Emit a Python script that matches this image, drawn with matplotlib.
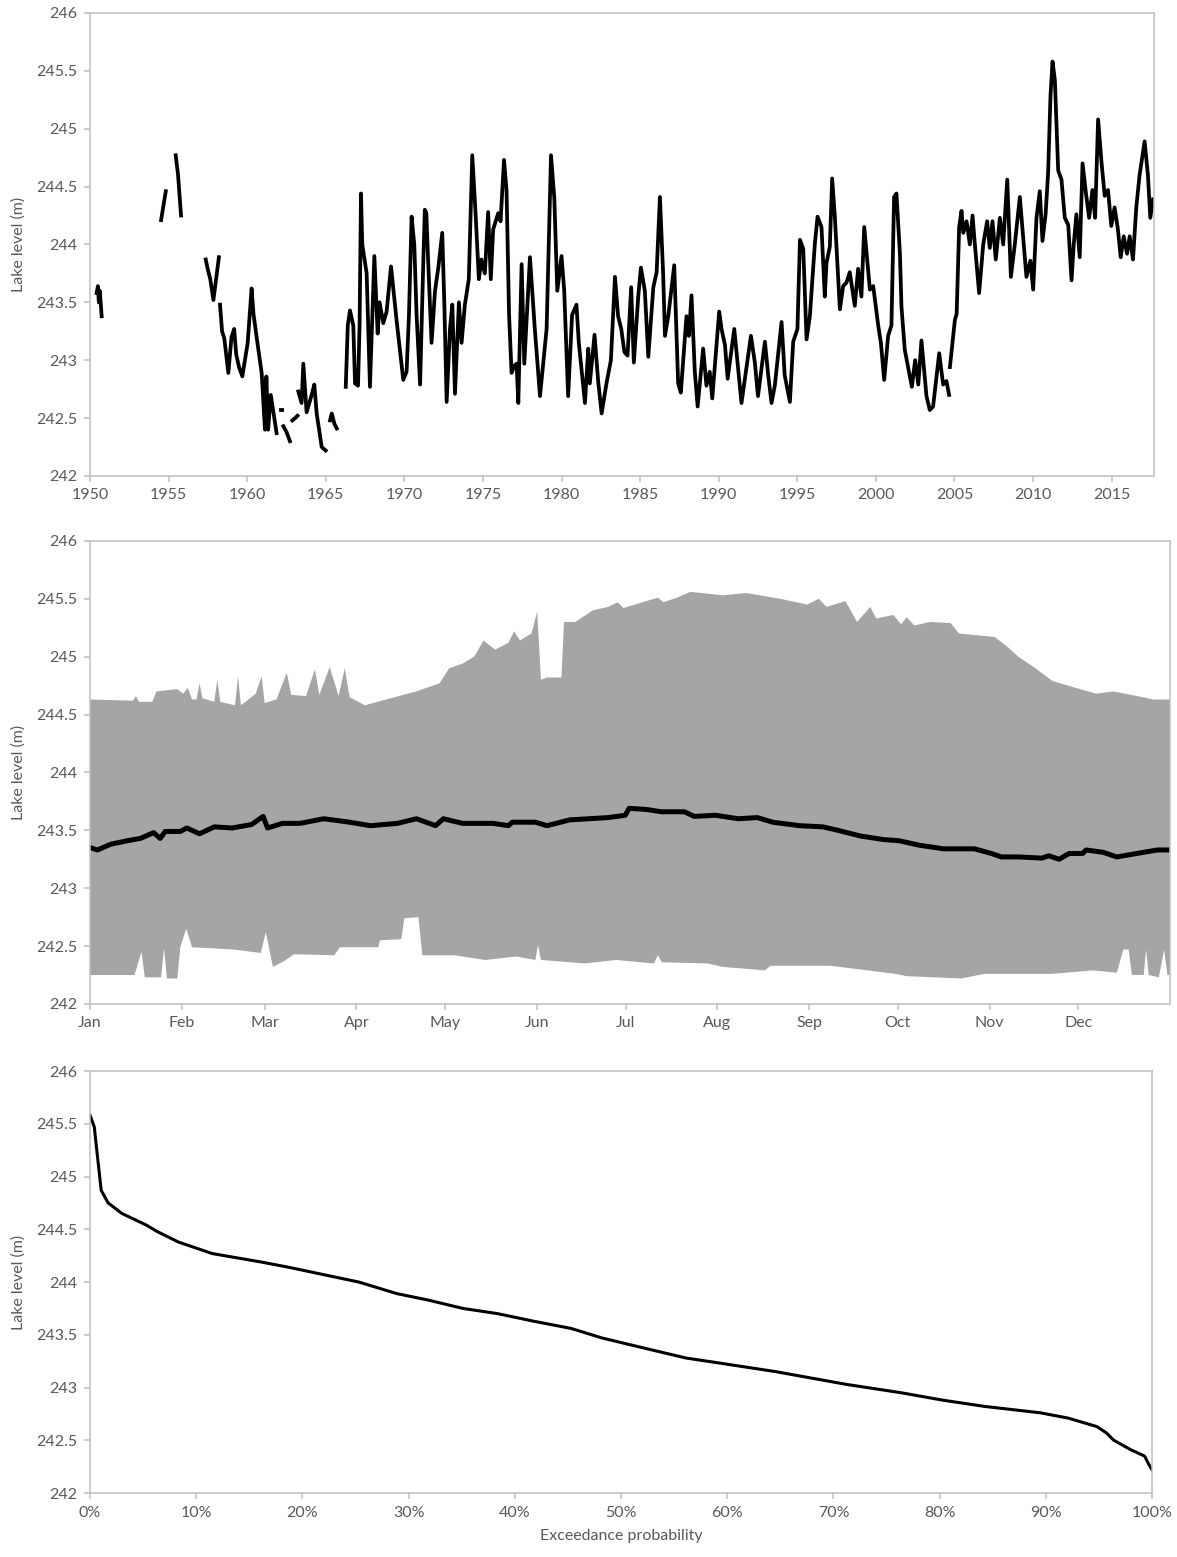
import numpy as np
import matplotlib
matplotlib.use("Agg")
import matplotlib.pyplot as plt
from matplotlib.ticker import FuncFormatter, PercentFormatter

plt.rcParams['font.family'] = ['Lato', 'DejaVu Sans']

nan = np.nan

# --- panel 1: lake level time series (years, m); nan = gap in record
ts_year = [1950.42, 1950.50, 1950.56, 1950.62, 1950.74, nan,
           1954.52, 1954.65, 1954.82, nan,
           1955.45, 1955.60, 1955.79, nan,
           1957.36, 1957.50, 1957.65, 1957.85, 1958.20, nan,
           1958.27, 1958.40, 1958.54, 1958.80, 1959.00, 1959.17, 1959.30, 1959.48, 1959.69, 1960.03,
           1960.28, 1960.40, 1960.65, 1960.92, 1961.13, 1961.22, 1961.33, 1961.50, 1961.87, nan,
           1962.15, 1962.22, nan,
           1962.30, 1962.50, 1962.72, nan,
           1962.87, 1963.05, 1963.20, nan,
           1963.25, 1963.46, 1963.57, 1963.78, 1964.10, 1964.27, 1964.42, 1964.74, 1964.99, nan,
           1965.27, 1965.38, 1965.55, 1965.70, nan,
           1966.27, 1966.40, 1966.54, 1966.75, 1966.86, 1967.05, 1967.15, 1967.24, 1967.32, 1967.60,
           1967.81, 1968.09, 1968.30, 1968.42, 1968.66, 1968.87, 1969.15, 1969.50, 1969.93, 1970.14,
           1970.29, 1970.46, 1970.63, 1970.78, 1971.00, 1971.20, 1971.30, 1971.40, 1971.50, 1971.73,
           1971.95, 1972.16, 1972.41, 1972.54, 1972.69, 1972.90, 1973.05, 1973.22, 1973.47, 1973.64,
           1973.85, 1974.10, 1974.32, 1974.53, 1974.74, 1974.90, 1975.12, 1975.33, 1975.50, 1975.65,
           1975.97, 1976.12, 1976.34, 1976.50, 1976.66, 1976.82, 1976.99, 1977.14, 1977.25, 1977.46,
           1977.63, 1977.99, 1978.30, 1978.63, 1979.05, 1979.33, 1979.54, 1979.73, 1980.00, 1980.17,
           1980.42, 1980.67, 1980.95, 1981.10, 1981.49, 1981.70, 1981.80, 1982.10, 1982.33, 1982.55,
           1982.86, 1983.14, 1983.40, 1983.60, 1983.80, 1984.00, 1984.20, 1984.43, 1984.60, 1984.88,
           1985.05, 1985.30, 1985.52, 1985.84, 1986.05, 1986.26, 1986.47, 1986.58, 1986.79, 1987.17,
           1987.42, 1987.59, 1987.95, 1988.10, 1988.27, 1988.48, 1988.66, 1989.01, 1989.22, 1989.43,
           1989.59, 1990.03, 1990.18, 1990.40, 1990.57, 1990.99, 1991.20, 1991.45, 1992.05, 1992.30,
           1992.50, 1992.94, 1993.15, 1993.36, 1993.57, 1994.00, 1994.20, 1994.53, 1994.74, 1995.01,
           1995.17, 1995.38, 1995.59, 1995.80, 1996.12, 1996.29, 1996.54, 1996.75, 1996.86, 1997.07,
           1997.22, 1997.39, 1997.71, 1997.92, 1998.13, 1998.34, 1998.66, 1998.87, 1999.08, 1999.26,
           1999.62, 1999.83, 2000.15, 2000.32, 2000.53, 2000.78, 2000.99, 2001.16, 2001.31, 2001.53,
           2001.63, 2001.84, 2002.05, 2002.29, 2002.50, 2002.70, 2002.90, 2003.22, 2003.43, 2003.64,
           2004.03, 2004.28, 2004.49, 2004.66, nan,
           2004.71, 2005.03, 2005.14, 2005.30, 2005.45, 2005.56, 2005.77, 2005.98, 2006.15, 2006.30,
           2006.57, 2006.83, 2007.08, 2007.25, 2007.42, 2007.63, 2007.89, 2008.10, 2008.36, 2008.59,
           2008.84, 2009.16, 2009.41, 2009.58, 2009.83, 2010.01, 2010.22, 2010.43, 2010.60, 2010.80,
           2010.96, 2011.11, 2011.24, 2011.39, 2011.60, 2011.81, 2012.02, 2012.24, 2012.45, 2012.59,
           2012.76, 2012.97, 2013.15, 2013.36, 2013.57, 2013.78, 2013.95, 2014.14, 2014.35, 2014.56,
           2014.77, 2014.98, 2015.19, 2015.40, 2015.58, 2015.77, 2015.98, 2016.15, 2016.36, 2016.57,
           2016.78, 2017.10, 2017.31, 2017.46, 2017.64]
ts_level = [243.58, 243.64, 243.50, 243.60, 243.38, nan,
            244.21, 244.32, 244.46, nan,
            244.77, 244.60, 244.25, nan,
            243.87, 243.78, 243.70, 243.52, 243.89, nan,
            243.48, 243.25, 243.19, 242.89, 243.20, 243.27, 243.05, 242.94, 242.86, 243.15,
            243.62, 243.40, 243.15, 242.89, 242.40, 242.86, 242.40, 242.70, 242.37, nan,
            242.57, 242.57, nan,
            242.43, 242.38, 242.30, nan,
            242.48, 242.50, 242.52, nan,
            242.73, 242.63, 242.97, 242.55, 242.70, 242.79, 242.54, 242.25, 242.22, nan,
            242.48, 242.54, 242.45, 242.41, nan,
            242.77, 243.30, 243.43, 243.30, 242.80, 242.78, 243.30, 244.44, 244.00, 243.75,
            242.77, 243.90, 243.23, 243.50, 243.32, 243.42, 243.81, 243.35, 242.83, 242.90,
            243.38, 244.24, 244.00, 243.38, 242.79, 243.83, 244.30, 244.27, 243.90, 243.15,
            243.60, 243.80, 244.10, 243.50, 242.64, 243.27, 243.48, 242.71, 243.50, 243.15,
            243.48, 243.70, 244.77, 244.27, 243.70, 243.87, 243.75, 244.28, 243.70, 244.13,
            244.27, 244.20, 244.73, 244.47, 243.40, 242.89, 242.95, 242.97, 242.63, 243.83,
            242.97, 243.89, 243.27, 242.69, 243.27, 244.77, 244.40, 243.60, 243.90, 243.60,
            242.69, 243.39, 243.48, 243.15, 242.63, 243.10, 242.80, 243.22, 242.82, 242.54,
            242.80, 243.00, 243.72, 243.38, 243.27, 243.07, 243.04, 243.63, 242.98, 243.55,
            243.80, 243.60, 243.03, 243.63, 243.76, 244.41, 243.73, 243.21, 243.38, 243.82,
            242.80, 242.72, 243.38, 243.21, 243.56, 242.90, 242.60, 243.10, 242.78, 242.90,
            242.67, 243.42, 243.27, 243.13, 242.84, 243.27, 242.98, 242.63, 243.21, 242.98,
            242.69, 243.16, 242.87, 242.63, 242.78, 243.33, 242.87, 242.64, 243.16, 243.27,
            244.04, 243.96, 243.18, 243.38, 244.01, 244.24, 244.15, 243.55, 243.84, 243.98,
            244.57, 244.24, 243.44, 243.64, 243.67, 243.76, 243.47, 243.79, 243.55, 244.15,
            243.61, 243.64, 243.30, 243.15, 242.83, 243.21, 243.30, 244.41, 244.44, 243.92,
            243.46, 243.09, 242.94, 242.77, 243.00, 242.79, 243.17, 242.69, 242.57, 242.60,
            243.06, 242.79, 242.82, 242.70, nan,
            242.94, 243.35, 243.40, 244.15, 244.29, 244.10, 244.20, 244.00, 244.25, 244.00,
            243.58, 244.00, 244.20, 243.97, 244.20, 243.87, 244.23, 244.00, 244.56, 243.72,
            244.00, 244.41, 244.00, 243.72, 243.86, 243.61, 244.23, 244.46, 244.03, 244.26,
            244.62, 245.28, 245.58, 245.42, 244.64, 244.56, 244.23, 244.17, 243.69, 244.00,
            244.26, 243.89, 244.70, 244.45, 244.23, 244.47, 244.23, 245.08, 244.72, 244.42,
            244.47, 244.16, 244.32, 244.13, 243.89, 244.07, 243.92, 244.07, 243.87, 244.32,
            244.60, 244.89, 244.60, 244.23, 244.39]

# --- panel 2: daily maximum, minimum and mean by day of year
max_day = [0, 14.5, 15.5, 16.5, 21, 22.5, 29.5, 31.5, 33, 34.5, 36, 37, 38, 42, 43, 44, 49, 50, 51,
           56, 58, 59, 63, 66.5, 68, 73, 76, 77.5, 81, 84, 86.1, 87.7, 92.9, 100, 110.3, 118.1,
           121.4, 125.9, 129.8, 133, 136.9, 141.4, 143.3, 145.3, 149.2, 151.1, 152.4, 154.3, 159.3,
           160.2, 164, 169.9, 175.1, 178.3, 180.3, 188, 191.9, 193.8, 198.4, 202.9, 213.9, 221.7,
           233.3, 242.4, 246.3, 248.9, 255.3, 259.2, 263.7, 265.7, 271.5, 274.1, 276, 278.6, 284,
           290.8, 293.7, 305.7, 310.3, 313.7, 319.5, 325.2, 333.2, 340, 345.8, 353.8, 359.5, 365]
max_level = [244.63, 244.62, 244.66, 244.61, 244.61, 244.70, 244.72, 244.68, 244.73, 244.63, 244.63,
             244.77, 244.64, 244.61, 244.80, 244.61, 244.58, 244.83, 244.58, 244.68, 244.83, 244.60,
             244.63, 244.86, 244.67, 244.66, 244.89, 244.67, 244.91, 244.66, 244.90, 244.65, 244.58,
             244.63, 244.70, 244.77, 244.90, 244.94, 245.00, 245.14, 245.06, 245.12, 245.22, 245.14,
             245.20, 245.39, 244.80, 244.82, 244.82, 245.30, 245.30, 245.40, 245.43, 245.47, 245.42,
             245.48, 245.51, 245.47, 245.51, 245.56, 245.53, 245.55, 245.50, 245.45, 245.50, 245.43,
             245.48, 245.30, 245.43, 245.33, 245.36, 245.28, 245.34, 245.27, 245.30, 245.29, 245.20,
             245.17, 245.08, 245.00, 244.90, 244.79, 244.73, 244.68, 244.70, 244.66, 244.63, 244.63]
min_day = [0, 15, 17.4, 18.5, 24, 25, 26, 29.5, 30.5, 32.5, 34.5, 48.7, 57.7, 59.4, 61.8, 65.6, 69,
           82.5, 84.5, 97.4, 98, 105.2, 106.2, 111, 112.3, 123.3, 133.6, 144, 150.5, 151.4, 152.4,
           167.3, 177.7, 190.6, 191.9, 193.2, 208.7, 213.9, 228.1, 230, 250.1, 272.2, 276, 294.3,
           302.3, 325.2, 338.9, 347, 349.2, 351, 352.1, 356.1, 356.9, 357.8, 361.2, 363, 364.1, 365]
min_level = [242.25, 242.25, 242.45, 242.23, 242.23, 242.48, 242.22, 242.22, 242.49, 242.65, 242.49,
             242.47, 242.44, 242.62, 242.32, 242.37, 242.43, 242.42, 242.49, 242.49, 242.55, 242.56,
             242.74, 242.75, 242.42, 242.42, 242.38, 242.41, 242.38, 242.51, 242.38, 242.35, 242.38,
             242.35, 242.42, 242.36, 242.35, 242.32, 242.29, 242.33, 242.33, 242.26, 242.24, 242.22,
             242.26, 242.26, 242.29, 242.27, 242.47, 242.47, 242.25, 242.25, 242.47, 242.25, 242.23,
             242.47, 242.25, 242.25]
mean_day = [0, 2.5, 7, 12.6, 17, 21.5, 23.7, 25.4, 30.5, 32.7, 37, 42, 48, 54.6, 58.5, 60, 65, 71, 79,
            87.7, 94.8, 103.9, 110.3, 116.8, 119.4, 125.9, 136.2, 141.4, 142.7, 150.5, 154.4, 162.1,
            168.6, 175.1, 180.9, 182.2, 188, 193.2, 200.9, 204.2, 211.3, 219.1, 225.5, 230.7, 239.8,
            247.6, 252.7, 260.5, 268.2, 273.4, 280.5, 288.5, 298.9, 304.6, 308, 313.7, 321.7, 324,
            327.5, 330.9, 335.5, 336.6, 342.4, 347, 353.8, 360.7, 365]
mean_level = [243.35, 243.33, 243.38, 243.41, 243.43, 243.48, 243.43, 243.49, 243.49, 243.52, 243.47,
              243.53, 243.52, 243.55, 243.62, 243.52, 243.56, 243.56, 243.60, 243.57, 243.54, 243.56,
              243.60, 243.54, 243.60, 243.56, 243.56, 243.54, 243.57, 243.57, 243.54, 243.59, 243.60,
              243.61, 243.63, 243.69, 243.68, 243.66, 243.66, 243.62, 243.63, 243.60, 243.61, 243.57,
              243.54, 243.53, 243.50, 243.45, 243.42, 243.41, 243.37, 243.34, 243.34, 243.30, 243.27,
              243.27, 243.26, 243.28, 243.25, 243.30, 243.30, 243.33, 243.31, 243.27, 243.30, 243.33,
              243.33]
month_start = [0, 31, 59, 90, 120, 151, 181, 212, 243, 273, 304, 334]
month_labels = ['Jan', 'Feb', 'Mar', 'Apr', 'May', 'Jun', 'Jul', 'Aug', 'Sep', 'Oct', 'Nov', 'Dec']

# --- panel 3: level duration curve
exceed = [0.0, 0.004, 0.007, 0.0105, 0.017, 0.030, 0.053, 0.063, 0.083, 0.115, 0.161, 0.187, 0.220,
          0.253, 0.289, 0.318, 0.351, 0.384, 0.417, 0.453, 0.482, 0.515, 0.561, 0.594, 0.646, 0.679,
          0.712, 0.764, 0.803, 0.843, 0.895, 0.921, 0.948, 0.957, 0.964, 0.980, 0.993, 0.997, 1.0]
dur_level = [245.58, 245.47, 245.19, 244.87, 244.75, 244.65, 244.54, 244.48, 244.38, 244.27, 244.19,
             244.14, 244.07, 244.00, 243.89, 243.83, 243.75, 243.70, 243.63, 243.56, 243.47, 243.39,
             243.28, 243.23, 243.15, 243.09, 243.03, 242.95, 242.88, 242.82, 242.76, 242.71, 242.63,
             242.57, 242.50, 242.41, 242.35, 242.27, 242.22]

grey = '#595959'
frame = '#bfbfbf'
fsize = 11.5


def style(ax):
    ax.set_ylim(242, 246)
    ax.set_yticks(np.arange(242, 246.01, 0.5))
    ax.yaxis.set_major_formatter(FuncFormatter(lambda v, p: '{:g}'.format(v)))
    ax.set_ylabel('Lake level (m)', color=grey, fontsize=fsize, labelpad=8)
    for s in ax.spines.values():
        s.set_color(frame)
        s.set_linewidth(1.1)
    ax.tick_params(colors=frame, labelcolor=grey, labelsize=fsize, length=4, width=1.1)
    ax.tick_params(axis='y', pad=5)
    ax.tick_params(axis='x', pad=5)


fig = plt.figure(figsize=(11.77, 15.57), dpi=100)

ax1 = fig.add_axes([0.0765, 0.6943, 0.904, 0.2974])
ax1.plot(ts_year, ts_level, color='black', linewidth=2.7, solid_joinstyle='round')
ax1.set_xlim(1950, 2017.7)
ax1.set_xticks(range(1950, 2016, 5))
style(ax1)

ax2 = fig.add_axes([0.0765, 0.3552, 0.9176, 0.2974])
poly_x = np.r_[max_day, min_day[::-1]]
poly_y = np.r_[max_level, min_level[::-1]]
ax2.fill(poly_x, poly_y, color='#a5a5a5', linewidth=0)
ax2.plot(mean_day, mean_level, color='black', linewidth=3.6, solid_joinstyle='round')
ax2.set_xlim(0, 365)
ax2.set_xticks(month_start)
ax2.set_xticklabels(month_labels)
style(ax2)

ax3 = fig.add_axes([0.0765, 0.0411, 0.9023, 0.271])
ax3.plot(exceed, dur_level, color='black', linewidth=2.2, solid_joinstyle='round')
ax3.set_xlim(0, 1)
ax3.set_xticks(np.arange(0, 1.01, 0.1))
ax3.xaxis.set_major_formatter(PercentFormatter(1.0, decimals=0))
ax3.set_xlabel('Exceedance probability', color=grey, fontsize=fsize, labelpad=7)
style(ax3)

fig.savefig('out.png', dpi=100)
